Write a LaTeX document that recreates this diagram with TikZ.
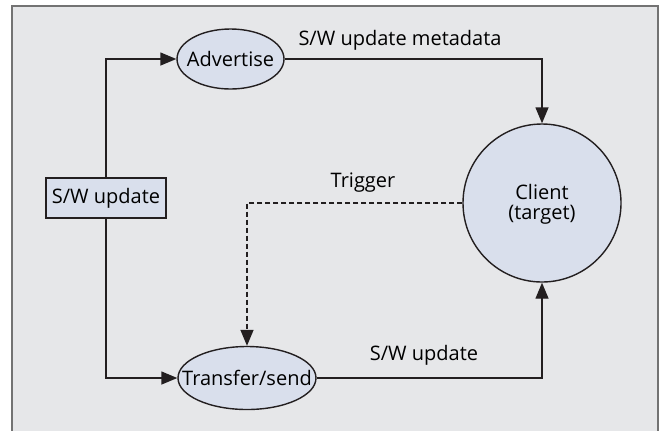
\documentclass[tikz,border=0pt]{standalone}
\usepackage{fontspec}
\setmainfont{Open Sans}
\usetikzlibrary{arrows.meta, shapes.geometric}
\definecolor{panel}{HTML}{E6E7E9}
\definecolor{nodefill}{HTML}{D9DFEC}
\definecolor{ink}{HTML}{231F20}

\begin{document}
\begin{tikzpicture}[x=0.5pt, y=-0.5pt, font=\fontsize{10}{12}\selectfont,
		line width=0.7pt, draw=ink,
		flow/.style = {-{Triangle[length=8pt, width=6.5pt]}, ink},
		main/.style = {draw=ink, fill=nodefill, ellipse, inner sep=0pt},
		box/.style = {draw=ink, fill=nodefill, rectangle, minimum width=60pt, minimum height=20pt, inner sep=0pt},
		label/.style = {inner sep=0pt}]
		\useasboundingbox (0,0) rectangle (662,430);
		\fill[white] (0,0) rectangle (662,430);
		\draw[fill=panel, draw=gray!90!black, line width=1pt] (12,6) rectangle (658,440);
		\node[box] (sw) at (106,198) {S/W update};
		\node[main, circle, minimum size=79pt] (client) at (542,203) {};
		\node[main, minimum width=53.5pt, minimum height=30pt] (adv) at (230.5,59) {\makebox[0pt]{Advertise}};
		\node[main, minimum width=69pt, minimum height=31.5pt] (tx) at (247,378) {\makebox[0pt]{Transfer/send}};
		\node[label] (cl1) at (542,192) {Client};
		\node[label] (cl2) at (542,215) {(target)};
		\node[label] (meta) at (400,40) {S/W update metadata};
		\node[label] (trig) at (363,183) {Trigger};
		\node[label] (upd) at (424,355) {S/W update};
		\draw[flow] (sw.north) |- (adv);
		\draw[flow] (sw.south) |- (tx);
		\draw[flow] (adv) -| (client);
		\draw[flow] (tx) -| (client);
		\draw[flow, dash pattern=on 2.5pt off 1.5pt] (client) -| (tx);
	\end{tikzpicture}
\end{document}
